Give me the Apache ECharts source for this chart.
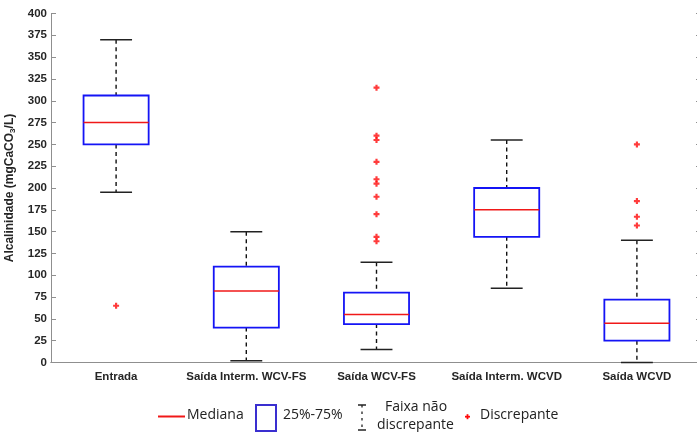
<!DOCTYPE html>
<html>
<head>
<meta charset="utf-8">
<script src="https://cdn.jsdelivr.net/npm/echarts@6/dist/echarts.min.js"></script>
<style>
html,body{margin:0;padding:0;background:#fff;}
#chart{width:697px;height:432px;}
</style>
</head>
<body>
<div id="chart"></div>
<script>
const categories = ['Entrada', 'Saída Interm. WCV-FS', 'Saída WCV-FS', 'Saída Interm. WCVD', 'Saída WCVD'];
const lowerWhisker = [195, 2, 15, 85, 0];
const q1 = [250, 40, 44, 144, 25];
const median = [275, 82, 55, 175, 45];
const q3 = [306, 110, 80, 200, 72];
const upperWhisker = [370, 150, 115, 255, 140];
const outliersEntrada = [65];
const outliersIntermWCVFS = [];
const outliersWCVFS = [315, 260, 255, 230, 210, 205, 190, 170, 144, 139];
const outliersIntermWCVD = [];
const outliersWCVD = [250, 185, 167, 157];
const yTicks = [0, 25, 50, 75, 100, 125, 150, 175, 200, 225, 250, 275, 300, 325, 350, 375, 400];

const outlierGroups = [outliersEntrada, outliersIntermWCVFS, outliersWCVFS, outliersIntermWCVD, outliersWCVD];
const outlierData = [];
outlierGroups.forEach((g, i) => g.forEach(v => outlierData.push([i, v])));
const boxData = categories.map((c, i) => [i, lowerWhisker[i], q1[i], median[i], q3[i], upperWhisker[i]]);

const axisGray = '#8f8f8f';
const labelColor = '#262626';
const plusPath = 'path://M1.6,0H3.4V1.6H5V3.4H3.4V5H1.6V3.4H0V1.6H1.6Z';
const legendFont = '14px "Open Sans", sans-serif';
const axisFont = '"Liberation Sans", Arial, sans-serif';

const chart = echarts.init(document.getElementById('chart'), null, {renderer: 'canvas'});

function renderBox(params, api) {
  const x = api.value(0);
  const pLow = api.coord([x, api.value(1)]);
  const pQ1 = api.coord([x, api.value(2)]);
  const pMed = api.coord([x, api.value(3)]);
  const pQ3 = api.coord([x, api.value(4)]);
  const pHigh = api.coord([x, api.value(5)]);
  const band = api.size([1, 0])[0];
  const bw = band * 0.5, cw = band * 0.245;
  const cx = pMed[0];
  const dash = {stroke: '#111', lineWidth: 1.4, lineDash: [4, 3.5]};
  const cap = {stroke: '#222', lineWidth: 1.5};
  return {
    type: 'group',
    children: [
      {type: 'line', shape: {x1: cx, y1: pHigh[1], x2: cx, y2: pQ3[1]}, style: dash},
      {type: 'line', shape: {x1: cx, y1: pQ1[1], x2: cx, y2: pLow[1]}, style: dash},
      {type: 'line', shape: {x1: cx - cw / 2, y1: pHigh[1], x2: cx + cw / 2, y2: pHigh[1]}, style: cap},
      {type: 'line', shape: {x1: cx - cw / 2, y1: pLow[1], x2: cx + cw / 2, y2: pLow[1]}, style: cap},
      {type: 'rect', shape: {x: cx - bw / 2, y: pQ3[1], width: bw, height: pQ1[1] - pQ3[1]},
        style: {fill: 'none', stroke: '#1414f5', lineWidth: 1.8}},
      {type: 'line', shape: {x1: cx - bw / 2, y1: pMed[1], x2: cx + bw / 2, y2: pMed[1]},
        style: {stroke: '#f01818', lineWidth: 1.5}}
    ]
  };
}

const option = {
  backgroundColor: '#fff',
  animation: false,
  grid: {left: 51, top: 13.5, width: 651, height: 349, containLabel: false, outerBoundsMode: 'none'},
  xAxis: [
    {
      type: 'category', data: categories, position: 'bottom', boundaryGap: true,
      axisLine: {lineStyle: {color: axisGray, width: 1}},
      axisTick: {inside: true, alignWithLabel: true, length: 5, lineStyle: {color: axisGray}},
      axisLabel: {interval: 0, margin: 8, color: labelColor, fontWeight: 'bold', fontSize: 11.5, fontFamily: axisFont},
      splitLine: {show: false}
    },
    {
      type: 'category', data: categories, position: 'top', boundaryGap: true,
      axisLine: {lineStyle: {color: axisGray, width: 1}},
      axisTick: {inside: true, alignWithLabel: true, length: 5, lineStyle: {color: axisGray}},
      axisLabel: {show: false}, splitLine: {show: false}
    }
  ],
  yAxis: [
    {
      type: 'value', min: 0, max: 400, interval: 25, position: 'left',
      name: 'Alcalinidade (mgCaCO{sub|3}/L)', nameLocation: 'middle', nameGap: 31, nameRotate: 90,
      nameTextStyle: {color: labelColor, fontWeight: 'bold', fontSize: 12, fontFamily: axisFont,
        rich: {sub: {fontSize: 8, fontWeight: 'bold', color: labelColor, verticalAlign: 'bottom', padding: [6, 0, 0, 0],
          fontFamily: axisFont}}},
      axisLine: {show: true, lineStyle: {color: axisGray, width: 1}},
      axisTick: {show: true, inside: true, length: 5, lineStyle: {color: axisGray}},
      axisLabel: {margin: 4, color: labelColor, fontWeight: 'bold', fontSize: 11.5, fontFamily: axisFont,
        formatter: v => yTicks.indexOf(v) >= 0 ? String(v) : ''},
      splitLine: {show: false}
    },
    {
      type: 'value', min: 0, max: 400, interval: 25, position: 'right',
      axisLine: {show: true, lineStyle: {color: axisGray, width: 1}},
      axisTick: {show: true, inside: true, length: 6, lineStyle: {color: axisGray}},
      axisLabel: {show: false}, splitLine: {show: false}
    }
  ],
  series: [
    {
      type: 'custom', name: 'box', xAxisIndex: 0, yAxisIndex: 0,
      renderItem: renderBox, data: boxData,
      encode: {x: 0, y: [1, 2, 3, 4, 5]}, z: 2
    },
    {
      type: 'scatter', name: 'Discrepante', xAxisIndex: 0, yAxisIndex: 0,
      data: outlierData, symbol: plusPath, symbolSize: 6,
      itemStyle: {color: '#ff0a0a'}, z: 3
    }
  ],
  graphic: [
    {type: 'line', shape: {x1: 158, y1: 416.5, x2: 185, y2: 416.5}, style: {stroke: '#f01818', lineWidth: 2}},
    {type: 'text', x: 187, y: 408, style: {text: 'Mediana', font: legendFont, fill: '#222'}},
    {type: 'rect', shape: {x: 256, y: 405, width: 20, height: 26}, style: {fill: 'none', stroke: '#3a2fd0', lineWidth: 2}},
    {type: 'text', x: 283, y: 408, style: {text: '25%-75%', font: legendFont, fill: '#222'}},
    {type: 'line', shape: {x1: 358, y1: 405, x2: 366, y2: 405}, style: {stroke: '#222', lineWidth: 1.5}},
    {type: 'line', shape: {x1: 362, y1: 405, x2: 362, y2: 430}, style: {stroke: '#222', lineWidth: 1.3, lineDash: [2.5, 4]}},
    {type: 'line', shape: {x1: 358, y1: 430, x2: 366, y2: 430}, style: {stroke: '#222', lineWidth: 1.5}},
    {type: 'text', x: 385, y: 400, style: {text: 'Faixa não', font: legendFont, fill: '#222'}},
    {type: 'text', x: 377, y: 418, style: {text: 'discrepante', font: legendFont, fill: '#222'}},
    {type: 'rect', shape: {x: 465, y: 415.8, width: 5, height: 1.8}, style: {fill: '#ff0a0a'}},
    {type: 'rect', shape: {x: 466.6, y: 414.2, width: 1.8, height: 5}, style: {fill: '#ff0a0a'}},
    {type: 'text', x: 480, y: 408, style: {text: 'Discrepante', font: legendFont, fill: '#222'}}
  ]
};
chart.setOption(option);
</script>
</body>
</html>
